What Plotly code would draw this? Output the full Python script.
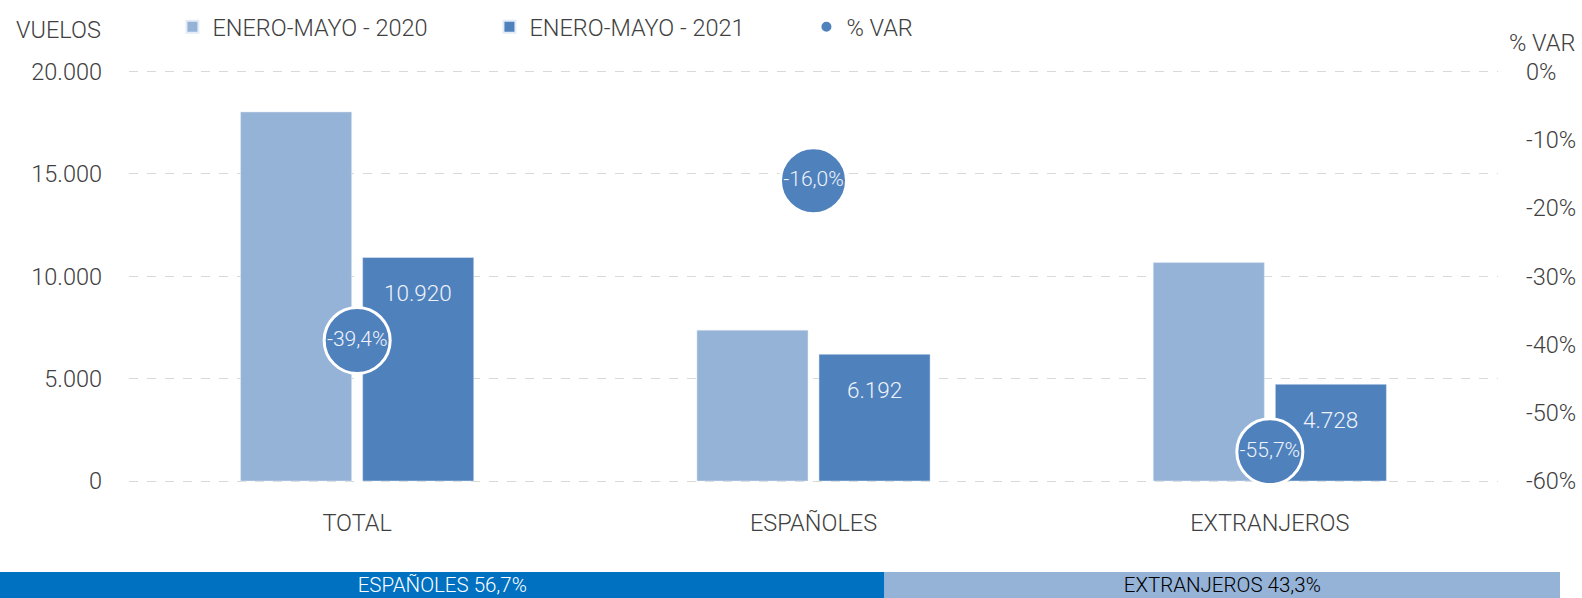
import plotly.graph_objects as go

categories = ["TOTAL", "ESPAÑOLES", "EXTRANJEROS"]
vuelos_2020 = [18030, 7370, 10670]
vuelos_2021 = [10920, 6192, 4728]
pct_var = [-39.4, -16.0, -55.7]
pct_ticks = [0, -10, -20, -30, -40, -50, -60]
vuelos_ticks = [0, 5000, 10000, 15000, 20000]

share_names = ["ESPAÑOLES", "EXTRANJEROS"]
share_values = [56.7, 43.3]

W, H = 1582, 598
FONT = "Roboto"
FS = 23.5
C2020 = "#95b3d7"
C2021 = "#4f81bd"
TXT = "#404040"
LBL = "#eef3fa"

BARGAP = 0.465
BARGROUPGAP = 0.09

# plot area in pixels
PX_L, PX_R = 129, 1498
PY_T, PY_B = 71.6, 481
pad_px = 2.05
ypx_per_unit = (PY_B - PY_T) / 20000
pad_units = pad_px / ypx_per_unit
pad_pct = pad_px / ((PY_B - PY_T) / 60)

fig = go.Figure()
fig.add_trace(go.Bar(x=categories, y=vuelos_2020, name="ENERO-MAYO - 2020",
                     marker_color=C2020, xaxis="x", yaxis="y", hoverinfo="skip"))
fig.add_trace(go.Bar(x=categories, y=vuelos_2021, name="ENERO-MAYO - 2021",
                     marker_color=C2021, xaxis="x", yaxis="y", hoverinfo="skip"))
fig.add_trace(go.Scatter(x=categories, y=pct_var, name="% VAR", mode="markers+text",
                         xaxis="x", yaxis="y2",
                         marker=dict(size=66, color=C2021, line=dict(color="white", width=3)),
                         texttemplate="%{y:.1f}%", textposition="middle center",
                         textfont=dict(color=LBL, size=21, family=FONT, weight=300),
                         hoverinfo="skip"))

# bottom share strip
base = 0
colors = ["#0070c0", C2020]
tcolors = ["white", "black"]
for i, (n, v) in enumerate(zip(share_names, share_values)):
    fig.add_trace(go.Bar(y=[0], x=[v], base=[base], orientation="h", width=[1],
                         offsetgroup="strip", xaxis="x2", yaxis="y3",
                         marker=dict(color=colors[i], line=dict(width=0)),
                         text=[n], texttemplate="%{text} %{x:.1f}%",
                         textposition="inside", insidetextanchor="middle",
                         constraintext="none",
                         textfont=dict(color=tcolors[i], size=20.5, family=FONT, weight=300),
                         showlegend=False, hoverinfo="skip"))
    base += v

# value labels of 2021 bars, anchored on the data
slot_px = (PX_R - PX_L) / len(categories)
bar_offset_px = (1 - BARGAP) / 4 * slot_px
annotations = []
for c, v in zip(categories, vuelos_2021):
    annotations.append(dict(x=c, y=v, xref="x", yref="y", text=f"{v:,}".replace(",", "."),
                            showarrow=False, xshift=bar_offset_px, yshift=-36,
                            xanchor="center", yanchor="middle",
                            font=dict(size=22.5, color=LBL, family=FONT, weight=300)))
annotations += [
    dict(text="VUELOS", x=59 / W, y=1 - 30 / H, xref="paper", yref="paper",
         showarrow=False, xanchor="center", yanchor="middle",
         font=dict(size=FS, color=TXT)),
    dict(text="% VAR", x=1542 / W, y=1 - 43 / H, xref="paper", yref="paper",
         showarrow=False, xanchor="center", yanchor="middle",
         font=dict(size=FS, color=TXT)),
]

xd = [PX_L / W, PX_R / W]
yd = [1 - (PY_B + pad_px) / H, 1 - (PY_T - pad_px) / H]

fig.update_layout(
    width=W, height=H,
    margin=dict(l=0, r=0, t=0, b=0, autoexpand=False),
    paper_bgcolor="white", plot_bgcolor="white",
    font=dict(family=FONT, size=FS, color=TXT, weight=300),
    separators=",.",
    barmode="group", bargap=BARGAP, bargroupgap=BARGROUPGAP,
    showlegend=True,
    legend=dict(orientation="h", x=0.109, xanchor="left", y=1 - 27 / H, yanchor="middle",
                font=dict(size=FS, color=TXT, family=FONT, weight=300), itemsizing="constant",
                entrywidth=272, entrywidthmode="pixels", traceorder="normal",
                bgcolor="rgba(0,0,0,0)"),
    xaxis=dict(domain=xd, anchor="y", showgrid=False, zeroline=False, showline=False,
               tickfont=dict(size=FS, color=TXT), ticks="", ticklabelstandoff=23),
    yaxis=dict(domain=yd, range=[-pad_units, 20000 + pad_units], tickvals=vuelos_ticks,
               tickformat=",",
               showgrid=True, gridcolor="#d9d9d9", griddash="dash", gridwidth=1,
               zeroline=False, showline=False, ticks="", ticklabelstandoff=26,
               tickfont=dict(size=FS, color=TXT)),
    yaxis2=dict(overlaying="y", side="right", anchor="x", range=[-60 - pad_pct, pad_pct],
                tickvals=pct_ticks, ticktext=[f"{t}%" for t in pct_ticks],
                showgrid=False, zeroline=False, showline=False,
                ticks="", ticklabelstandoff=27, tickfont=dict(size=FS, color=TXT)),
    xaxis2=dict(domain=[0, 1560 / W], anchor="y3", range=[0, 100], visible=False),
    yaxis3=dict(domain=[0, 26 / H], range=[-0.5, 0.5], visible=False),
    annotations=annotations,
)

fig.write_html("out.html", config={"displayModeBar": False},
               post_script="document.body.style.margin='0';document.body.style.overflow='hidden';")
